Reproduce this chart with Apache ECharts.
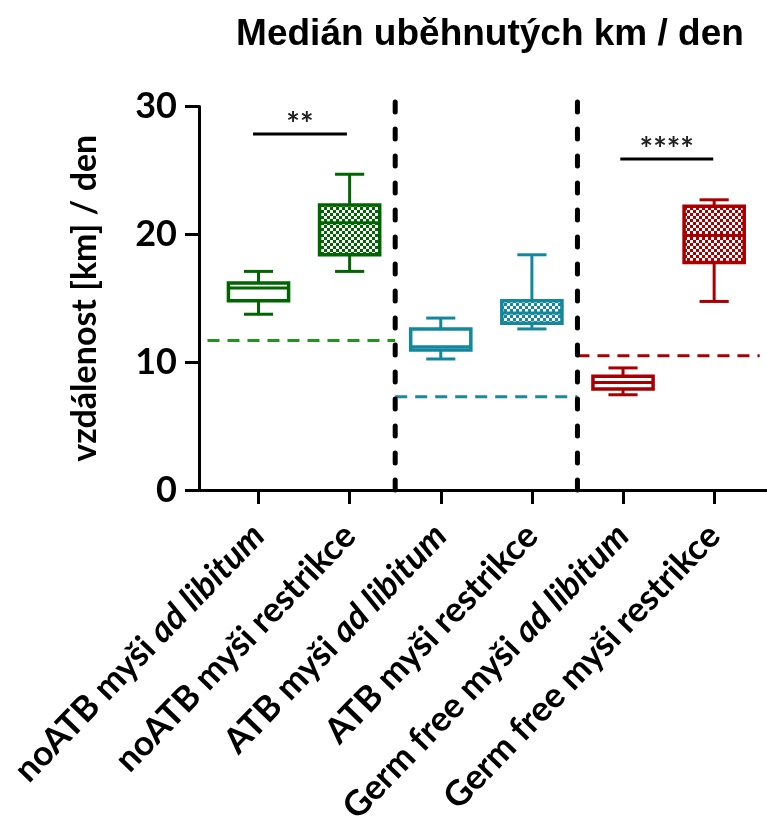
<!DOCTYPE html>
<html>
<head>
<meta charset="utf-8">
<script src="https://cdn.jsdelivr.net/npm/echarts@6/dist/echarts.min.js"></script>
<style>
html,body{margin:0;padding:0;background:#fff;}
#chart{width:767px;height:818px;}
</style>
</head>
<body>
<div id="chart"></div>
<script>
// ---- data ----
const titleText = 'Medián uběhnutých km / den';
const yAxisName = 'vzdálenost [km] / den';
const categoryMain = ['noATB myši ', 'noATB myši restrikce', 'ATB myši ', 'ATB myši restrikce', 'Germ free myši ', 'Germ free myši restrikce'];
const categoryItalic = ['ad libitum', '', 'ad libitum', '', 'ad libitum', ''];
const categoryPos = [1, 2, 3, 4, 5, 6];
const whiskerMin = [13.75, 17.1, 10.25, 12.6, 7.45, 14.75];
const quartile1 = [14.8, 18.4, 10.95, 13.05, 7.9, 17.8];
const medians = [15.8, 20.9, 11.2, 13.85, 8.4, 19.9];
const quartile3 = [16.2, 22.3, 12.6, 14.8, 8.9, 22.2];
const whiskerMax = [17.1, 24.7, 13.45, 18.4, 9.55, 22.7];
const restricted = [false, true, false, true, false, true];
const yTicks = [0, 10, 20, 30];
const refStart = [0.44, 2.5, 4.5];
const refEnd = [2.5, 4.5, 6.5];
const refValue = [11.7, 7.3, 10.5];
const dividerPos = [2.5, 4.5];
const sigStart = [0.94, 4.97];
const sigEnd = [1.97, 5.99];
const sigValue = [27.85, 25.9];
const sigLabel = ['**', '****'];

// ---- styles ----
const boxColors = ['#006400', '#006400', '#13879e', '#13879e', '#a80000', '#a80000'];
const refColors = ['#1e961e', '#1a88a0', '#a80000'];

function checker(color) {
  const c = document.createElement('canvas');
  c.width = 6; c.height = 6;
  const g = c.getContext('2d');
  g.fillStyle = color; g.fillRect(0, 0, 6, 6);
  g.fillStyle = '#ffffff';
  g.fillRect(0, 0, 3, 3);
  g.fillRect(3, 3, 3, 3);
  return c;
}

const chart = echarts.init(document.getElementById('chart'));

const boxData = categoryPos.map((x, i) => [x, whiskerMin[i], quartile1[i], medians[i], quartile3[i], whiskerMax[i], i]);

function renderBox(params, api) {
  const x = api.value(0);
  const i = api.value(6);
  const color = boxColors[i];
  const unit = api.size([1, 0])[0];
  const hw = unit * 0.33;
  const cw = unit * 0.16;
  const pMin = api.coord([x, api.value(1)]);
  const pQ1 = api.coord([x, api.value(2)]);
  const pMed = api.coord([x, api.value(3)]);
  const pQ3 = api.coord([x, api.value(4)]);
  const pMax = api.coord([x, api.value(5)]);
  const cx = pMin[0];
  const ls = { stroke: color, lineWidth: 3, fill: null };
  const fill = restricted[i] ? { image: checker(color), repeat: 'repeat' } : '#ffffff';
  return {
    type: 'group',
    children: [
      { type: 'line', shape: { x1: cx, y1: pMax[1], x2: cx, y2: pQ3[1] }, style: ls },
      { type: 'line', shape: { x1: cx, y1: pMin[1], x2: cx, y2: pQ1[1] }, style: ls },
      { type: 'line', shape: { x1: cx - cw, y1: pMax[1], x2: cx + cw, y2: pMax[1] }, style: ls },
      { type: 'line', shape: { x1: cx - cw, y1: pMin[1], x2: cx + cw, y2: pMin[1] }, style: ls },
      { type: 'rect', shape: { x: cx - hw, y: pQ3[1], width: 2 * hw, height: pQ1[1] - pQ3[1] },
        style: { fill: fill, stroke: color, lineWidth: 3.5 } },
      { type: 'line', shape: { x1: cx - hw, y1: pMed[1], x2: cx + hw, y2: pMed[1] }, style: ls }
    ]
  };
}

const refData = refValue.map((v, i) => [refStart[i], refEnd[i], v, i]);
function renderRef(params, api) {
  const a = api.coord([api.value(0), api.value(2)]);
  const b = api.coord([api.value(1), api.value(2)]);
  return { type: 'line', shape: { x1: a[0], y1: a[1], x2: b[0], y2: b[1] },
    style: { stroke: refColors[api.value(3)], lineWidth: 3, lineDash: [12, 8] } };
}

const divData = dividerPos.map(x => [x, 0, 30.7]);
function renderDiv(params, api) {
  const a = api.coord([api.value(0), api.value(1)]);
  const b = api.coord([api.value(0), api.value(2)]);
  return { type: 'line', shape: { x1: a[0], y1: a[1], x2: b[0], y2: b[1] },
    style: { stroke: '#000', lineWidth: 5, lineDash: [10, 17], lineCap: 'round' } };
}

const sigData = sigValue.map((v, i) => [sigStart[i], sigEnd[i], v, i]);
function renderSig(params, api) {
  const a = api.coord([api.value(0), api.value(2)]);
  const b = api.coord([api.value(1), api.value(2)]);
  return { type: 'group', children: [
    { type: 'line', shape: { x1: a[0], y1: a[1], x2: b[0], y2: b[1] }, style: { stroke: '#000', lineWidth: 3 } },
    { type: 'text', x: (a[0] + b[0]) / 2, y: a[1] + 8,
      style: { text: sigLabel[api.value(3)], fill: '#222', font: 'bold 32px Lato', align: 'center', verticalAlign: 'bottom' } }
  ] };
}

chart.setOption({
  animation: false,
  backgroundColor: '#ffffff',
  title: {
    text: titleText, left: 485, top: 11, textAlign: 'center',
    textStyle: { fontFamily: 'Liberation Sans', fontWeight: 'bold', fontSize: 37, color: '#000' }
  },
  grid: { left: 199, right: 0, top: 106.5, bottom: 328, containLabel: false, outerBoundsMode: 'none' },
  xAxis: {
    type: 'value', min: 0.347, max: 6.58,
    splitLine: { show: false },
    axisLine: { show: true, lineStyle: { color: '#000', width: 3 } },
    axisTick: { show: true, customValues: categoryPos, length: 14, lineStyle: { color: '#000', width: 3 } },
    axisLabel: {
      customValues: categoryPos, rotate: 46, margin: 40,
      formatter: function (v) {
        const i = categoryPos.indexOf(Math.round(v));
        if (i < 0) return '';
        return '{n|' + categoryMain[i] + '}' + (categoryItalic[i] ? '{it|' + categoryItalic[i] + '}' : '');
      },
      rich: {
        n: { fontFamily: 'Lato', fontWeight: 'bold', fontSize: 35, color: '#000' },
        it: { fontFamily: 'Lato', fontWeight: 'bold', fontStyle: 'italic', fontSize: 35, color: '#000' }
      }
    }
  },
  yAxis: {
    type: 'value', min: 0, max: 30, interval: 10,
    name: yAxisName, nameLocation: 'middle', nameGap: 97,
    nameTextStyle: { fontFamily: 'Lato', fontWeight: 'bold', fontSize: 34, color: '#000' },
    splitLine: { show: false },
    axisLine: { show: true, lineStyle: { color: '#000', width: 3 } },
    axisTick: { show: true, length: 14, lineStyle: { color: '#000', width: 3 } },
    axisLabel: { margin: 22, fontFamily: 'Lato', fontWeight: 'bold', fontSize: 36, color: '#000',
      customValues: yTicks }
  },
  series: [
    { type: 'custom', name: 'ref', renderItem: renderRef, data: refData, clip: false, z: 2,
      encode: { x: [0, 1], y: 2 } },
    { type: 'custom', name: 'div', renderItem: renderDiv, data: divData, clip: false, z: 3,
      encode: { x: 0, y: [1, 2] } },
    { type: 'custom', name: 'box', renderItem: renderBox, data: boxData, clip: false, z: 4,
      encode: { x: 0, y: [1, 5] } },
    { type: 'custom', name: 'sig', renderItem: renderSig, data: sigData, clip: false, z: 4,
      encode: { x: [0, 1], y: 2 } }
  ]
});
</script>
</body>
</html>
